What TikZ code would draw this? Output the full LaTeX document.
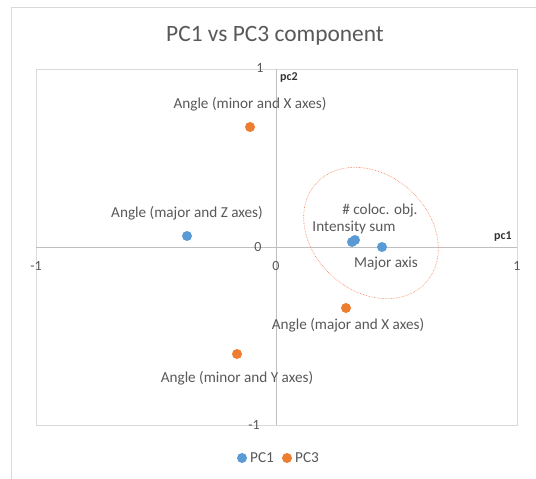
\documentclass[tikz,border=0pt]{standalone}
\usepackage{fontspec}
\setmainfont{Carlito}
\definecolor{txt}{HTML}{595959}
\definecolor{pcblue}{HTML}{5B9BD5}
\definecolor{pcorange}{HTML}{ED7D31}
\definecolor{frame}{HTML}{D9D9D9}
\definecolor{axis}{HTML}{BFBFBF}
\begin{document}
\begin{tikzpicture}[x=1pt,y=-1pt,
  lbl/.style={text=txt,font=\fontsize{15.2}{17}\selectfont,inner sep=0pt},
  tick/.style={text=txt,font=\fontsize{14}{16}\selectfont,inner sep=0pt},
  axlbl/.style={text=black!80,font=\bfseries\fontsize{12}{14}\selectfont,inner sep=0pt},
  bluedot/.style={circle,fill=pcblue,inner sep=0pt,minimum size=10pt},
  orangedot/.style={circle,fill=pcorange,inner sep=0pt,minimum size=10pt}]
\useasboundingbox (0,0) rectangle (536,479);
\fill[white] (0,0) rectangle (536,479);
% outer chart frame
\draw[frame,line width=1pt] (11,540) -- (11,7) -- (560,7);
% title
\node[text=txt,font=\fontsize{23.4}{26}\selectfont,inner sep=0pt] (title) at (275,36) {PC1 vs PC3 component};
% plot area
\draw[frame,line width=0.9pt] (36,69) rectangle (517,425);
% axes
\draw[axis,line width=0.9pt] (276.5,69) -- (276.5,425);
\draw[axis,line width=0.9pt] (36,247) -- (517,247);
% tick labels
\node[tick] (y1) at (260,68) {1};
\node[tick] (y0) at (258,247) {0};
\node[tick] (ym1) at (254,425) {-1};
\node[tick] (xm1) at (36,266) {-1};
\node[tick] (x0) at (276,266) {0};
\node[tick] (x1) at (517,266) {1};
\node[axlbl] (pc2) at (289,78) {pc2};
\node[axlbl] (pc1) at (503,237) {pc1};
% ellipse
\draw[pcorange!70!red!80,densely dotted,line width=0.6pt] (371,233) ellipse[x radius=74,y radius=58,rotate=-42];
% points
\node[bluedot] (b1) at (187,236) {};
\node[bluedot] (b2) at (352,242) {};
\node[bluedot] (b3) at (355,240) {};
\node[bluedot] (b4) at (382,247) {};
\node[orangedot] (o1) at (250,127) {};
\node[orangedot] (o2) at (346,308) {};
\node[orangedot] (o3) at (237,354) {};
% data labels
\node[lbl] (l1) at (250,104) {Angle (minor and X axes)};
\node[lbl] (l2) at (187,213) {Angle (major and Z axes)};
\node[lbl] (l3) at (380,211) {\# coloc. obj.};
\node[lbl] (l4) at (354,227) {Intensity sum};
\node[lbl] (l5) at (386,264) {Major axis};
\node[lbl] (l6) at (348,325) {Angle (major and X axes)};
\node[lbl] (l7) at (237,378) {Angle (minor and Y axes)};
% legend
\node[bluedot] (lg1) at (242,458) {};
\node[lbl,anchor=west] (lg1t) at (250,458) {PC1};
\node[orangedot] (lg2) at (287,458) {};
\node[lbl,anchor=west] (lg2t) at (295,458) {PC3};
\end{tikzpicture}
\end{document}
